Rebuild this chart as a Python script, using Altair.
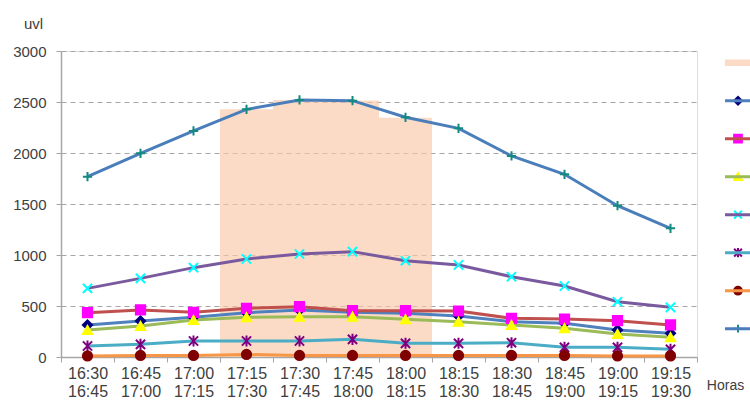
import altair as alt
import pandas as pd

# ---- data ----
horas = ["16:30|16:45", "16:45|17:00", "17:00|17:15", "17:15|17:30", "17:30|17:45", "17:45|18:00",
         "18:00|18:15", "18:15|18:30", "18:30|18:45", "18:45|19:00", "19:00|19:15", "19:15|19:30"]

series = ["Serie 1", "Serie 2", "Serie 3", "Serie 4", "Serie 5", "Serie 6", "Serie 7"]
serie_1 = [314, 353, 389, 434, 461, 438, 428, 402, 346, 330, 265, 232]
serie_2 = [434, 461, 438, 477, 493, 454, 454, 451, 379, 372, 356, 314]
serie_3 = [265, 304, 363, 389, 395, 395, 369, 346, 314, 281, 225, 193]
serie_4 = [673, 771, 876, 961, 1010, 1033, 944, 902, 787, 696, 542, 487]
serie_5 = [108, 124, 157, 157, 157, 173, 134, 134, 140, 95, 95, 75]
serie_6 = [10, 15, 15, 25, 15, 15, 15, 15, 15, 15, 10, 10]
serie_7 = [1768, 1997, 2216, 2428, 2520, 2513, 2350, 2242, 1971, 1791, 1483, 1262]
valores = [serie_1, serie_2, serie_3, serie_4, serie_5, serie_6, serie_7]

pico_nombre = "Hora pico"
pico_horas = ["17:15|17:30", "17:30|17:45", "17:45|18:00", "18:00|18:15"]
pico_valores = [2430, 2520, 2515, 2345]

y_ticks = [0, 500, 1000, 1500, 2000, 2500, 3000]

# ---- styles ----
line_colors = ["#4F81BD", "#C0504D", "#9BBB59", "#7A5A9E", "#4BACC6", "#F79646", "#4A7EBB"]
marker_colors = ["#00007F", "#FF00FF", "#FFFF00", "#00FFFF", "#7F007F", "#7F0000", "#138A80"]
x_path = "M-1,-1L1,1M-1,1L1,-1"
ast_path = "M-1,-1L1,1M-1,1L1,-1M0,-1.2L0,1.2"
plus_path = "M-1,0L1,0M0,-1L0,1"
marker_shapes = ["diamond", "square", "triangle-up", x_path, ast_path, "circle", plus_path]
peach = "#F9C8A7"
grey = "#A6A6A6"
text_col = "#404040"
FONT = "Liberation Sans"

rows = []
for name, vals in zip(series, valores):
    for h, v in zip(horas, vals):
        rows.append({"hora": h, "serie": name, "marcador": name, "valor": v})
df = pd.DataFrame(rows)
pico_df = pd.DataFrame({"hora": pico_horas, "tipo": [pico_nombre] * len(pico_horas), "valor": pico_valores})

X = alt.X("hora:N",
          scale=alt.Scale(type="band", domain=horas, paddingInner=0, paddingOuter=0),
          axis=alt.Axis(title="Horas", labelExpr="split(datum.label, '|')", labelAngle=0,
                        labelFont=FONT, labelFontSize=16, labelColor=text_col, labelLineHeight=18,
                        labelPadding=3, labelOverlap=False, tickBand="extent", tickSize=5,
                        tickColor=grey, domainColor=grey, domainWidth=1.5, grid=False,
                        titleFont=FONT, titleFontSize=14, titleFontWeight="normal", titleColor=text_col,
                        titleX=664, titleY=28, titleAlign="center", titleBaseline="middle", titleAngle=0))
Y = alt.Y("valor:Q",
          scale=alt.Scale(domain=[0, 3000], nice=False, zero=True),
          axis=alt.Axis(title="uvl", values=y_ticks, format="d", labelFont=FONT, labelFontSize=15,
                        labelColor=text_col,
                        labelPadding=10, tickSize=5, tickColor=grey, domainColor=grey, domainWidth=1.5,
                        grid=True, gridColor=grey, gridDash=[5, 4], gridWidth=1, labelFlush=False,
                        titleFont=FONT, titleFontSize=15, titleFontWeight="normal", titleColor=text_col,
                        titleAngle=0, titleX=-28, titleY=-28, titleAlign="center", titleBaseline="middle"))

leg_bar = alt.Legend(orient="none", legendX=664, legendY=-7.3, title=None, labelExpr="''",
                     clipHeight=38, rowPadding=0, padding=0, labelFontSize=10,
                     symbolType="M-1,-0.25L1,-0.25L1,0.25L-1,0.25Z", symbolSize=676,
                     symbolStrokeWidth=0, symbolOpacity=0.65)
leg_line = alt.Legend(orient="none", legendX=662.5, legendY=30.7, title=None, labelExpr="''",
                      clipHeight=38, rowPadding=0, padding=0, labelFontSize=10,
                      symbolType="stroke", symbolSize=676, symbolStrokeWidth=3)
leg_mark = alt.Legend(orient="none", legendX=672, legendY=30.7, title=None, labelExpr="''",
                      clipHeight=38, rowPadding=0, padding=0, labelFontSize=10,
                      symbolSize=60, symbolStrokeWidth=2)

bars = alt.Chart(pico_df).mark_bar(opacity=0.65).encode(
    x=X, y=Y,
    color=alt.Color("tipo:N", scale=alt.Scale(range=[peach]), legend=leg_bar),
)

lines = alt.Chart(df).mark_line(strokeWidth=3).encode(
    x=X, y=Y,
    color=alt.Color("serie:N", scale=alt.Scale(range=line_colors), legend=leg_line),
)

points = alt.Chart(df).mark_point(filled=True, size=85, strokeWidth=2, opacity=1).encode(
    x=X, y=Y,
    fill=alt.Fill("marcador:N", scale=alt.Scale(range=marker_colors), legend=leg_mark),
    stroke=alt.Stroke("marcador:N", scale=alt.Scale(range=marker_colors), legend=leg_mark),
    shape=alt.Shape("marcador:N", scale=alt.Scale(range=marker_shapes), legend=leg_mark),
)

chart = alt.layer(bars, lines, points).resolve_scale(color="independent").properties(
    width=636, height=306,
    autosize=alt.AutoSizeParams(type="none"),
    padding={"left": 61, "top": 51, "right": 53, "bottom": 44},
).configure_view(stroke=None).configure(font=FONT, background="white")

chart.save("out.html", embed_options={"renderer": "svg", "actions": False})
